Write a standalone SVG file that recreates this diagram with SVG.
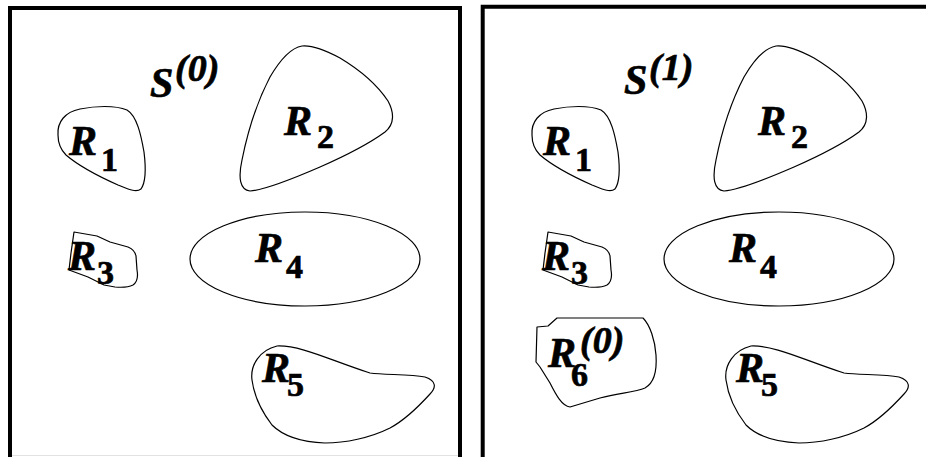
<svg xmlns="http://www.w3.org/2000/svg" width="926" height="457" viewBox="0 0 926 457">
<style>
.frame{fill:none;stroke:#000;stroke-width:4}
.reg{fill:none;stroke:#000;stroke-width:1.2;stroke-linejoin:round}
text{fill:#000;stroke:#000;stroke-width:0.7}
.R{font-family:"Liberation Serif","Times New Roman",serif;font-weight:bold;font-style:italic;font-size:42px}
.sub{font-family:"Liberation Serif","Times New Roman",serif;font-weight:bold;font-size:34px}
.sup{font-family:"Liberation Serif","Times New Roman",serif;font-weight:bold;font-style:italic;font-size:38px}
</style>
<rect width="926" height="457" fill="#fff"/>
<g id="panel0">
  <path class="frame" d="M10,460 V8 H460 V460"/>
  <line x1="12" y1="455.5" x2="458" y2="455.5" stroke="#e2e2e2" stroke-width="1"/>
  <g id="S0"><text class="R" x="150" y="97">S</text><text class="sup" x="175" y="81">(0)</text></g>
  <g id="R1_0"><path class="reg" d="M58,135 C57,122 65,112 80,109 C95,106 115,105 127,110 C137,116 141,135 144,152 C146,168 146,182 141,189 C136,193 128,189 118,185 C100,177 80,167 66,155 C60,149 58,142 58,135 Z"/><text class="R" x="69" y="155">R</text><text class="sub" x="101" y="171">1</text></g>
  <g id="R2_0"><path class="reg" d="M302,46 C290,48 280,60 270,77 C258,100 248,130 242,160 C238,178 240,190 250,191 C265,190 290,180 320,167 C345,156 370,143 385,132 C395,124 394,112 388,101 C378,86 360,70 340,58 C325,50 312,45 302,46 Z"/><text class="R" x="284" y="135">R</text><text class="sub" x="317" y="148">2</text></g>
  <g id="R3_0"><path class="reg" d="M74,232 L97,236 L110,242 L128,247 Q135,250 136,256 L137,270 Q139,281 133,285 Q127,288 115,287 L104,285 L88,277 L69,270 L71,253 Z"/><text class="R" x="68" y="270">R</text><text class="sub" x="97" y="284">3</text></g>
  <g id="R4_0"><ellipse class="reg" cx="305" cy="259" rx="115" ry="47"/><text class="R" x="255" y="262">R</text><text class="sub" x="286" y="278">4</text></g>
  <g id="R5_0"><path class="reg" d="M252,380 C250,365 260,350 277,346 C300,345 330,360 367,372 L370,373 C385,375 410,374 425,377 C437,381 436,388 430,394 C420,405 405,420 390,428 C370,438 345,443 325,443 C300,442 283,436 272,425 C262,412 254,395 252,380 Z"/><text class="R" x="262" y="382">R</text><text class="sub" x="287" y="396">5</text></g>
</g>
<g id="panel1">
  <path class="frame" d="M482.7,460 V6.7 H930"/>
  <g id="S1"><text class="R" x="624" y="94">S</text><text class="sup" x="649" y="80">(1)</text></g>
  <g id="R1_1" transform="translate(474,0)"><path class="reg" d="M58,135 C57,122 65,112 80,109 C95,106 115,105 127,110 C137,116 141,135 144,152 C146,168 146,182 141,189 C136,193 128,189 118,185 C100,177 80,167 66,155 C60,149 58,142 58,135 Z"/><text class="R" x="69" y="155">R</text><text class="sub" x="101" y="171">1</text></g>
  <g id="R2_1" transform="translate(474,0)"><path class="reg" d="M302,46 C290,48 280,60 270,77 C258,100 248,130 242,160 C238,178 240,190 250,191 C265,190 290,180 320,167 C345,156 370,143 385,132 C395,124 394,112 388,101 C378,86 360,70 340,58 C325,50 312,45 302,46 Z"/><text class="R" x="284" y="135">R</text><text class="sub" x="317" y="148">2</text></g>
  <g id="R3_1" transform="translate(474,0)"><path class="reg" d="M74,232 L97,236 L110,242 L128,247 Q135,250 136,256 L137,270 Q139,281 133,285 Q127,288 115,287 L104,285 L88,277 L69,270 L71,253 Z"/><text class="R" x="68" y="270">R</text><text class="sub" x="97" y="284">3</text></g>
  <g id="R4_1" transform="translate(474,0)"><ellipse class="reg" cx="305" cy="259" rx="115" ry="47"/><text class="R" x="255" y="262">R</text><text class="sub" x="286" y="278">4</text></g>
  <g id="R5_1" transform="translate(474,0)"><path class="reg" d="M252,380 C250,365 260,350 277,346 C300,345 330,360 367,372 L370,373 C385,375 410,374 425,377 C437,381 436,388 430,394 C420,405 405,420 390,428 C370,438 345,443 325,443 C300,442 283,436 272,425 C262,412 254,395 252,380 Z"/><text class="R" x="262" y="382">R</text><text class="sub" x="287" y="396">5</text></g>
  <g id="R6_1"><path class="reg" d="M537,327 L548,326 L557,318 L643,318 C650,325 655,340 656,355 C657,370 654,383 645,388 C635,392 620,393 600,398 L570,407 C562,406 556,395 550,383 L540,367 L536,362 Z"/><text class="R" x="548" y="367">R</text><text class="sub" x="571" y="386">6</text><text class="sup" x="580" y="353">(0)</text></g>
</g>
</svg>
